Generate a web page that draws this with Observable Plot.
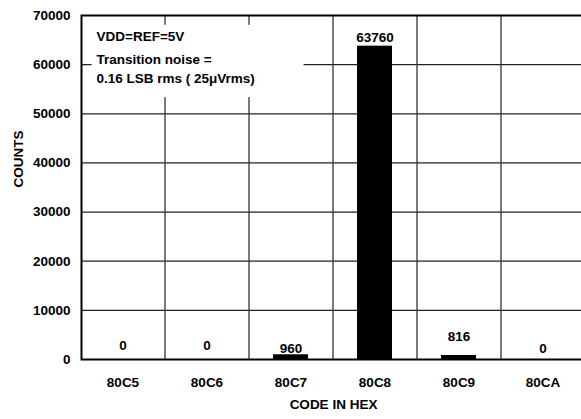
<!DOCTYPE html>
<html>
<head>
<meta charset="utf-8">
<script src="https://cdn.jsdelivr.net/npm/d3@7"></script>
<script src="https://cdn.jsdelivr.net/npm/@observablehq/plot@0.6"></script>
<style>
  html, body { margin: 0; padding: 0; background: white; overflow: hidden; }
  #chart svg { display: block; }
</style>
</head>
<body>
<div id="chart"></div>
<script>
const codes = ["80C5", "80C6", "80C7", "80C8", "80C9", "80CA"];
const counts = [0, 0, 960, 63760, 816, 0];
const yTicks = [0, 10000, 20000, 30000, 40000, 50000, 60000, 70000];
const gridValues = [10000, 20000, 30000, 40000, 50000, 60000];
const noteLines = ["VDD=REF=5V", "Transition noise =", "0.16 LSB rms ( 25\u03BCVrms)"];
const xTitle = "CODE IN HEX";
const yTitle = "COUNTS";

const data = codes.map((c, i) => ({code: c, count: counts[i]}));
// per-bar label offsets (as in the reference)
const labelDy = [-14, -14, -6, -8, -19, -11];

const font = {fontFamily: "'Liberation Sans', Arial, sans-serif", fontWeight: "bold", fontSize: 13.5, fill: "black"};

const labelMarks = data.map((d, i) =>
  Plot.text([d], {x: "code", y: "count", text: d => String(d.count), dy: labelDy[i], ...font})
);

const chart = Plot.plot({
  width: 581,
  height: 419,
  marginLeft: 81,
  marginRight: -4,
  marginTop: 15,
  marginBottom: 60,
  style: {fontFamily: "'Liberation Sans', Arial, sans-serif", fontSize: "13.5px", fontWeight: "bold", color: "black", background: "white"},
  x: {domain: codes, paddingInner: 0.58, paddingOuter: 0.29, tickSize: 0, tickPadding: 18, label: null},
  y: {domain: [0, 70000], ticks: yTicks, tickSize: 0, tickPadding: 11, tickFormat: d => String(d), label: null},
  marks: [
    Plot.ruleY(gridValues, {stroke: "#222", strokeWidth: 1.3}),
    Plot.ruleX(codes.slice(1), {x: d => d, dx: -42, stroke: "#333", strokeWidth: 1.3}),
    Plot.rect([0], {x1: () => codes[0], x2: () => codes[2], y1: () => 53300, y2: () => 68000, fill: "white", insetLeft: -13.4, insetRight: 4.4}),
    Plot.barY(data, {x: "code", y: "count", fill: "black"}),
    ...labelMarks,
    Plot.text([noteLines[0]], {frameAnchor: "top-left", dx: 15, dy: 21, textAnchor: "start", lineAnchor: "middle", ...font}),
    Plot.text([noteLines[1]], {frameAnchor: "top-left", dx: 15, dy: 44, textAnchor: "start", lineAnchor: "middle", ...font}),
    Plot.text([noteLines[2]], {frameAnchor: "top-left", dx: 15, dy: 63, textAnchor: "start", lineAnchor: "middle", ...font}),
    Plot.frame({stroke: "black", strokeWidth: 2}),
    Plot.text([xTitle], {frameAnchor: "bottom", dy: 49, ...font}),
    Plot.text([yTitle], {frameAnchor: "left", dx: -63, rotate: -90, ...font})
  ]
});
document.getElementById("chart").appendChild(chart);
</script>
</body>
</html>
